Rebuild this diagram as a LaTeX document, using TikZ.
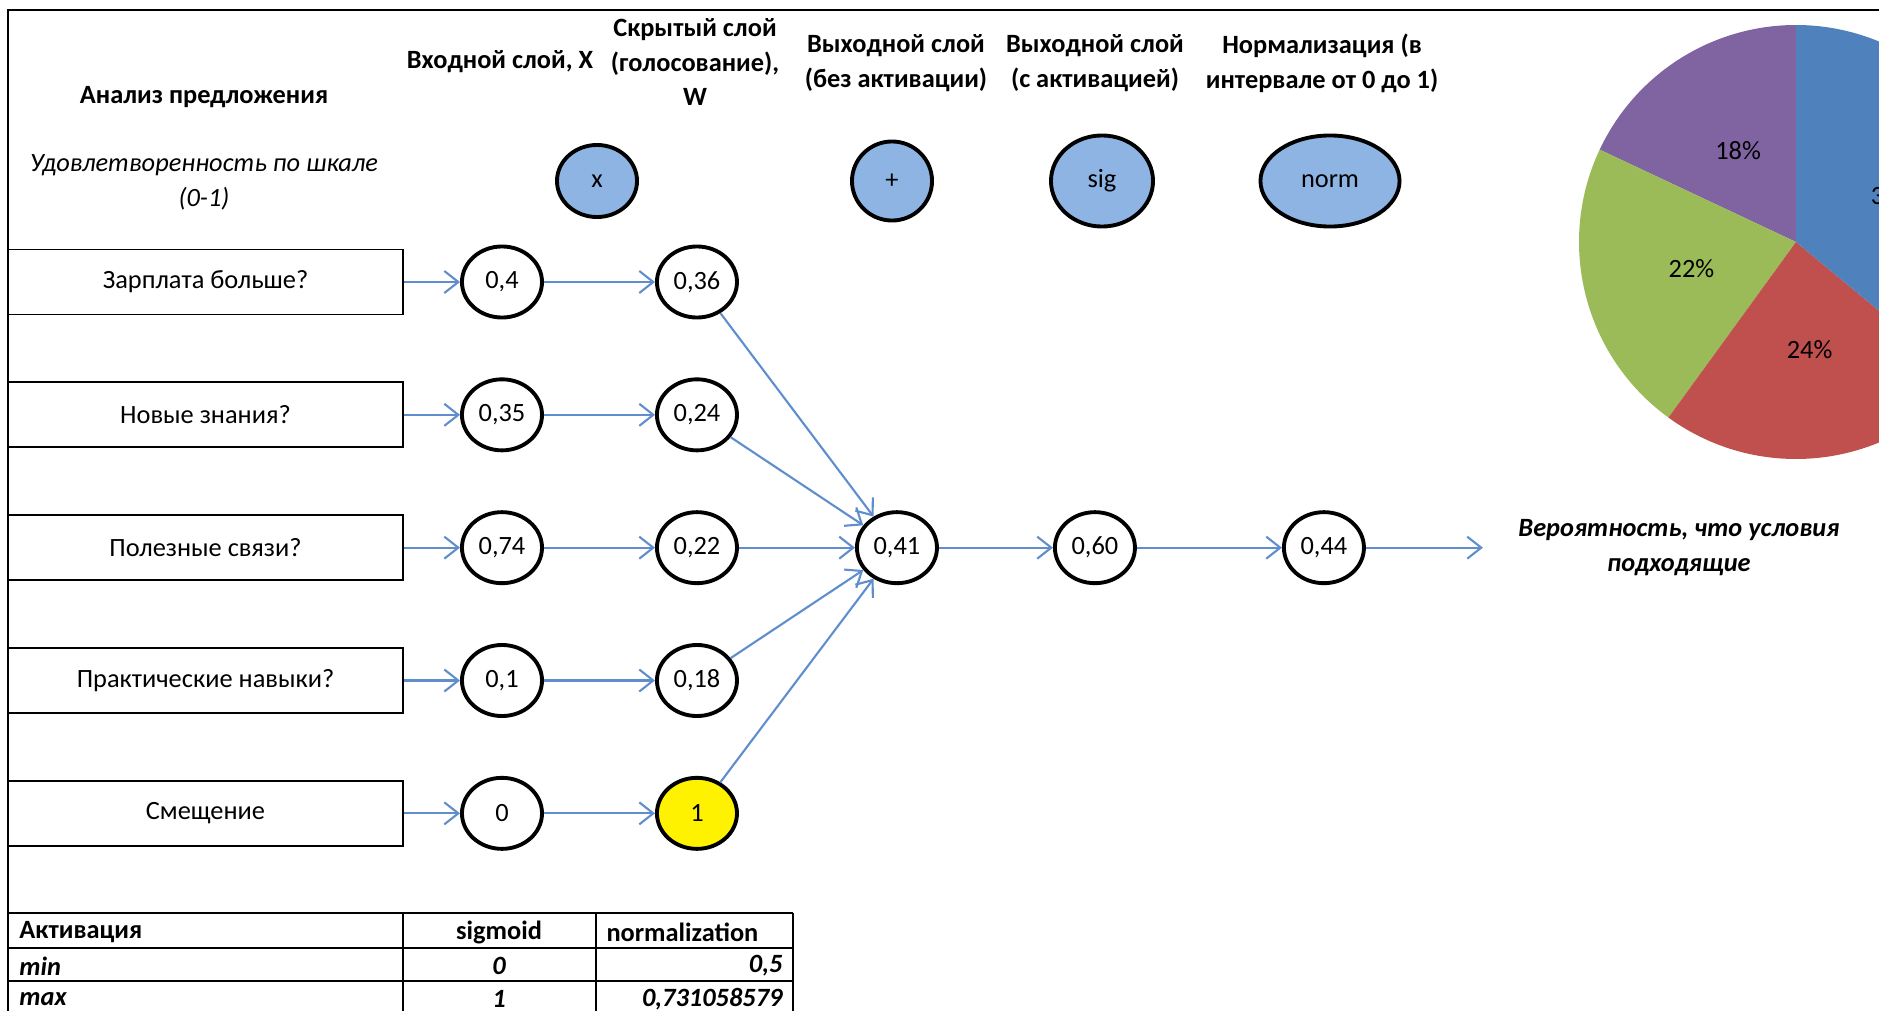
\documentclass[tikz,border=0pt]{standalone}
\usepackage{fontspec}
\setmainfont{Carlito}
\usetikzlibrary{positioning, arrows.meta, shapes.geometric}
\definecolor{opblue}{RGB}{142,180,227}
\definecolor{linkblue}{RGB}{96,142,204}
\definecolor{pieblue}{RGB}{79,129,189}
\definecolor{piered}{RGB}{192,80,77}
\definecolor{piegreen}{RGB}{155,187,89}
\definecolor{piepurple}{RGB}{128,100,162}

\begin{document}
\fontsize{7.5}{9.9}\selectfont
\begin{tikzpicture}[x=0.01cm, y=0.01cm,
  node distance=6.6mm,
  row/.style={draw, line width=0.5pt, minimum width=39.5mm, minimum height=6.5mm, inner sep=0pt},
  val/.style={draw, ellipse, line width=1.1pt, minimum width=8mm, minimum height=7.1mm, inner sep=0pt},
  op/.style={val, fill=opblue},
  head/.style={align=center, font=\bfseries},
  cell/.style={font=\bfseries\itshape},
  arr/.style={-{Straight Barb[length=1.4mm, width=2.2mm]}, linkblue, line width=0.6pt}]
\useasboundingbox (0,0) rectangle (1879,1011);
\draw[line width=0.6pt] (8,0) -- (8,1001) -- (1879,1001);

\node[head] (hq) at (204,914) {Анализ предложения};
\node[align=center, font=\itshape] (hs) at (204,829) {Удовлетворенность по шкале\\(0-1)};
\node[head] (hx) at (500,949) {Входной слой, X};
\node[head] (hw) at (695,949) {Скрытый слой\\(голосование),\\W};
\node[head] (hsum) at (896,948) {Выходной слой\\(без активации)};
\node[head] (hact) at (1095,948) {Выходной слой\\(с активацией)};
\node[head] (hnrm) at (1322,948) {Нормализация (в\\интервале от 0 до 1)};

\node[op, minimum height=7.2mm] (mul) at (597,830) {x};
\node[op, minimum height=7.9mm] (plus) at (892,830) {+};
\node[op, minimum width=10.2mm, minimum height=9.1mm] (sig) at (1102,830) {sig};
\node[op, minimum width=13.9mm, minimum height=9.1mm] (norm) at (1330,830) {norm};

\node[row] (r1) at (205.5,729) {Зарплата больше?};
\node[row, below=of r1] (r2) {Новые знания?};
\node[row, below=of r2] (r3) {Полезные связи?};
\node[row, below=of r3] (r4) {Практические навыки?};
\node[row, below=of r4] (r5) {Смещение};

\node[val, right=5.6mm of r1] (x1) {0,4};
\node[val, right=5.6mm of r2] (x2) {0,35};
\node[val, right=5.6mm of r3] (x3) {0,74};
\node[val, right=5.6mm of r4] (x4) {0,1};
\node[val, right=5.6mm of r5] (x5) {0};

\node[val, right=11.1mm of x1] (w1) {0,36};
\node[val, right=11.1mm of x2] (w2) {0,24};
\node[val, right=11.1mm of x3] (w3) {0,22};
\node[val, right=11.1mm of x4] (w4) {0,18};
\node[val, right=11.1mm of x5, fill=yellow] (w5) {1};

\node[val, right=11.6mm of w3] (sum) {0,41};
\node[val, right=11.4mm of sum] (act) {0,60};
\node[val, right=14.5mm of act] (nrm) {0,44};
\coordinate[right=11.7mm of nrm] (out);
\node[right=2.6mm of out, align=center, font=\bfseries\itshape] (res) {Вероятность, что условия\\подходящие};

\foreach \a/\b in {r1/x1, r2/x2, r3/x3, r4/x4, r5/x5, x1/w1, x2/w2, x3/w3, x4/w4, x5/w5,
  w1/sum, w2/sum, w3/sum, w4/sum, w5/sum, sum/act, act/nrm, nrm/out} \draw[arr] (\a) -- (\b);

\draw[line width=0.5pt] (8,98) -- (793,98) (8,63) -- (793,63) (8,30) -- (793,30)
  (403,0) -- (403,98) (596,0) -- (596,98) (793,0) -- (793,98);
\node[anchor=west, font=\bfseries] (ta) at (10,79) {Активация};
\node[font=\bfseries] (tsg) at (499,79) {sigmoid};
\node[anchor=west, font=\bfseries] (tnr) at (597,79) {normalization};
\node[anchor=west, cell] (tmin) at (10,45) {min};
\node[cell] (tmins) at (499,45) {0};
\node[anchor=east, cell] (tminn) at (792,45) {0,5};
\node[anchor=west, cell] (tmax) at (10,12) {max};
\node[cell] (tmaxs) at (499,12) {1};
\node[anchor=east, cell] (tmaxn) at (792,12) {0,731058579};

\begin{scope}
\clip (9,0) rectangle (1879,1000);
\coordinate (pc) at (1796,769);
\fill[piepurple] (pc) -- ++(90:217) arc[start angle=90, end angle=154.8, radius=217] -- cycle;
\fill[piegreen] (pc) -- ++(154.8:217) arc[start angle=154.8, end angle=234, radius=217] -- cycle;
\fill[piered] (pc) -- ++(234:217) arc[start angle=234, end angle=320.4, radius=217] -- cycle;
\fill[pieblue] (pc) -- ++(320.4:217) arc[start angle=320.4, end angle=450, radius=217] -- cycle;
\node (p18) at ([shift={(122.4:108)}]pc) {18\%};
\node (p22) at ([shift={(194.4:108)}]pc) {22\%};
\node (p24) at ([shift={(277.2:108)}]pc) {24\%};
\node (p36) at ([shift={(25.2:108)}]pc) {36\%};
\end{scope}
\end{tikzpicture}
\end{document}
